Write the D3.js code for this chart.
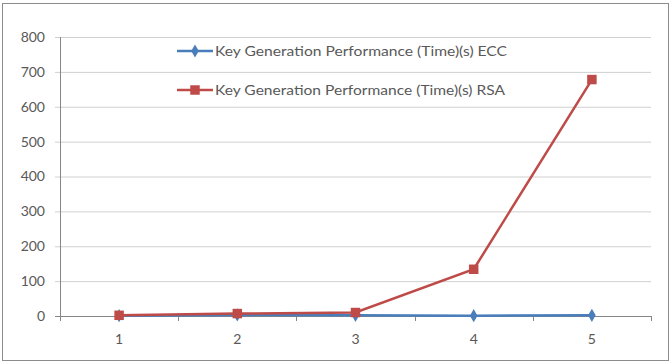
<!DOCTYPE html>
<html><head><meta charset="utf-8">
<script src="https://cdn.jsdelivr.net/npm/d3@7"></script>
<style>body{margin:0;background:#fff;} text{font-family:Lato, "Open Sans", sans-serif;}</style>
</head><body>
<svg id="c" width="672" height="364"></svg>
<script>
const categories = ["1","2","3","4","5"];
const eccValues = [1, 3, 2, 1, 2];
const rsaValues = [2, 7, 10, 134, 678];
const yTicks = [0,100,200,300,400,500,600,700,800];
const seriesNames = ["Key Generation Performance (Time)(s) ECC","Key Generation Performance (Time)(s) RSA"];

const svg = d3.select("#c");
svg.append("rect").attr("x",2.5).attr("y",3.5).attr("width",666).attr("height",357)
  .attr("fill","#fff").attr("stroke","#8c8c8c").attr("stroke-width",1);

const m = {l:60, r:651, t:37, b:316};
const x = d3.scaleBand().domain(categories).range([m.l, m.r]);
const y = d3.scaleLinear().domain([0,800]).range([m.b, m.t]);
const textCol = "#595959";

// gridlines
svg.append("g").selectAll("line").data(yTicks).join("line")
  .attr("x1", m.l-5).attr("x2", m.r).attr("y1", d=>y(d)+0.5).attr("y2", d=>y(d)+0.5)
  .attr("stroke", d=>d===0?"#868686":"#d0d0d0").attr("stroke-width",1);
// y axis
svg.append("line").attr("x1",m.l+0.5).attr("x2",m.l+0.5).attr("y1",m.t).attr("y2",m.b)
  .attr("stroke","#868686");
svg.append("g").selectAll("text").data(yTicks).join("text")
  .attr("x", m.l-15).attr("y", d=>y(d)).attr("dy","0.35em").attr("text-anchor","end")
  .attr("font-size",14).attr("fill",textCol).text(d=>d);
// x ticks at band boundaries
const bounds = categories.map(c=>x(c)).concat([m.r]);
svg.append("g").selectAll("line").data(bounds).join("line")
  .attr("x1",d=>Math.round(d)+0.5).attr("x2",d=>Math.round(d)+0.5).attr("y1",m.b).attr("y2",m.b+5)
  .attr("stroke","#868686");
svg.append("g").selectAll("text").data(categories).join("text")
  .attr("x", d=>x(d)+x.bandwidth()/2).attr("y", 339).attr("dy","0.35em").attr("text-anchor","middle")
  .attr("font-size",14).attr("fill",textCol).text(d=>d);

const cx = d=>x(d)+x.bandwidth()/2;
const line = d3.line().x(d=>cx(d.c)).y(d=>y(d.v));
const series = [
  {name:seriesNames[0], vals:eccValues, color:"#4a7ebb", sym:d3.symbolDiamond, size:50},
  {name:seriesNames[1], vals:rsaValues, color:"#be4b48", sym:d3.symbolSquare, size:90}
];
series.forEach(s=>{
  const pts = categories.map((c,i)=>({c, v:s.vals[i]}));
  s.pts = pts;
});
// draw ECC first then RSA
series.forEach(s=>{
  svg.append("path").datum(s.pts).attr("d",line).attr("fill","none")
    .attr("stroke",s.color).attr("stroke-width",2.5);
  svg.append("g").selectAll("path").data(s.pts).join("path")
    .attr("transform",d=>`translate(${cx(d.c)},${y(d.v)})`)
    .attr("d", d3.symbol().type(s.sym).size(s.size)).attr("fill",s.color);
});

// legend
const legY = [51, 90];
series.forEach((s,i)=>{
  const g = svg.append("g");
  g.append("line").attr("x1",177).attr("x2",213).attr("y1",legY[i]).attr("y2",legY[i])
    .attr("stroke",s.color).attr("stroke-width",2.5);
  g.append("path").attr("transform",`translate(195,${legY[i]})`)
    .attr("d", d3.symbol().type(s.sym).size(s.size)).attr("fill",s.color);
  g.append("text").attr("x",215).attr("y",legY[i]).attr("dy","0.35em")
    .attr("font-size",14).attr("fill",textCol).attr("textLength", i===0?292:290)
    .attr("lengthAdjust","spacingAndGlyphs").text(s.name);
});
</script>
</body></html>
